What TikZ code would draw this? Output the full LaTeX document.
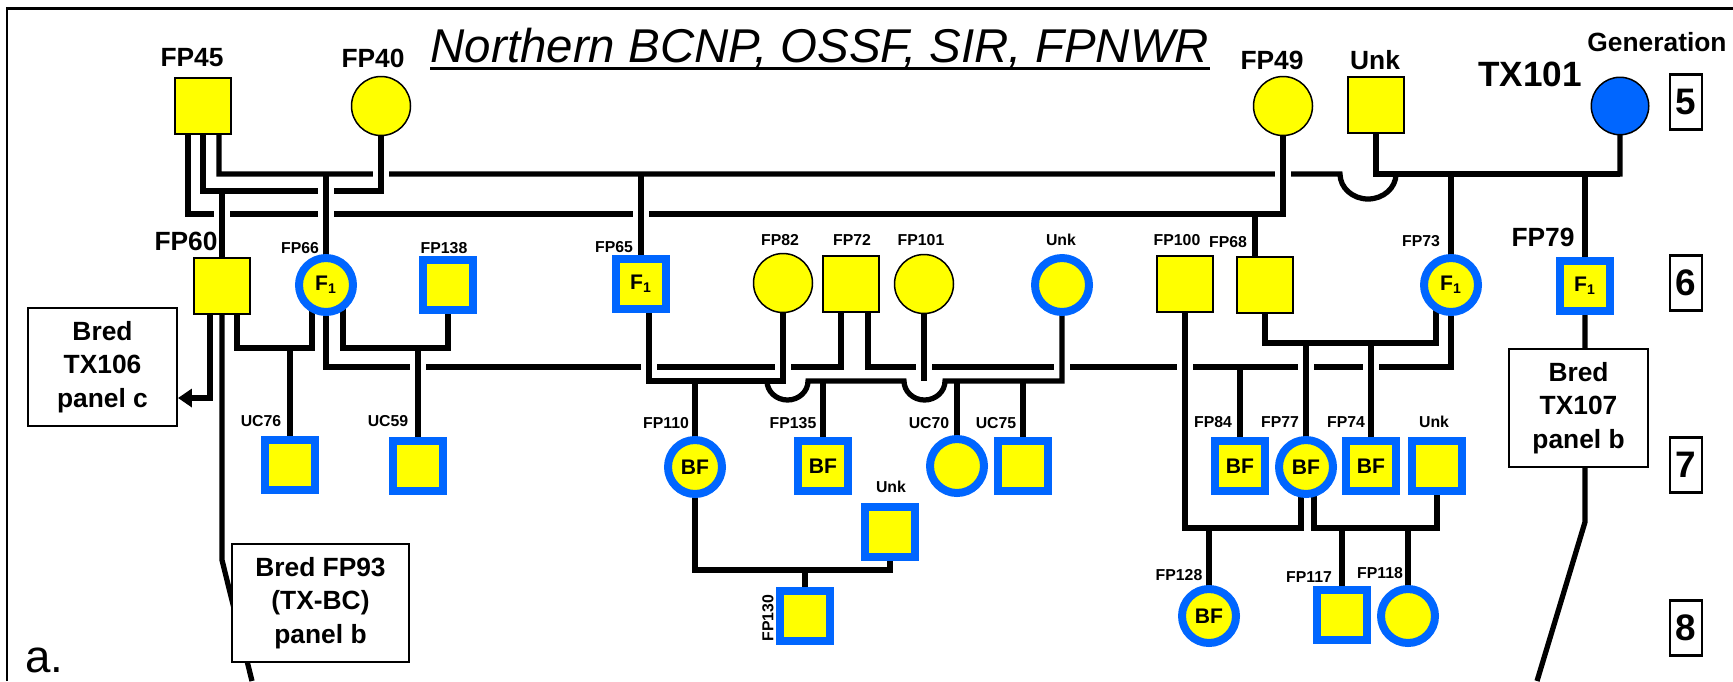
\documentclass[tikz,border=0pt]{standalone}
\usepackage{fontspec}
\setmainfont{Liberation Sans}
\usetikzlibrary{arrows.meta,backgrounds}
\definecolor{Yel}{HTML}{FFFF00}
\definecolor{Blu}{HTML}{0066FF}

\begin{document}
\begin{tikzpicture}[x=0.02cm,y=-0.02cm,
    mate/.style={line width=0.105cm},
    gap/.style={fill=white},
    sq/.style={rectangle,draw=black,line width=0.03cm,fill=Yel,minimum size=1.12cm,inner sep=0pt},
    bsq/.style={rectangle,draw=Blu,line width=0.16cm,fill=Yel,minimum size=1.0cm,inner sep=0pt,
      font=\bfseries\fontsize{12}{14}\selectfont},
    ci/.style={circle,draw=black,line width=0.03cm,fill=Yel,minimum size=1.18cm,inner sep=0pt},
    bci/.style={circle,draw=Blu,line width=0.16cm,fill=Yel,minimum size=1.08cm,inner sep=0pt,
      font=\bfseries\fontsize{12}{14}\selectfont},
    lab/.style={inner sep=0pt,font=\bfseries\fontsize{9}{10}\selectfont},
    biglab/.style={inner sep=0pt,font=\bfseries\fontsize{15}{18}\selectfont},
    bred/.style={draw=black,line width=0.04cm,fill=white,align=center,inner sep=0pt,
      minimum height=2.36cm,font=\bfseries\fontsize{15}{19}\selectfont},
    genbox/.style={draw=black,line width=0.05cm,minimum width=0.64cm,minimum height=1.1cm,
      inner sep=0pt,font=\bfseries\fontsize{21}{24}\selectfont}]
  \useasboundingbox (0,0) rectangle (1733,681);
  \draw[line width=0.06cm] (7,681) -- (7,8) -- (1733,8);

  \node[anchor=base,inner sep=0pt,font={\itshape\fontsize{27}{32}\selectfont}] (ttl) at (820,62)
    {Northern BCNP, OSSF, SIR, FPNWR};
  \draw[line width=0.06cm] ([yshift=-0.12cm]ttl.base west) -- ([yshift=-0.12cm]ttl.base east);

  \coordinate (yL1) at (0,174);
  \coordinate (yL2) at (0,191);
  \coordinate (yL3) at (0,214);
  \coordinate (yA) at (0,348);
  \coordinate (yC) at (0,343);
  \coordinate (yL4) at (0,367);
  \coordinate (yB) at (0,381);
  \coordinate (yF) at (0,398);
  \coordinate (yH) at (0,522);
  \coordinate (yD) at (0,528);
  \coordinate (yG) at (0,560);
  \coordinate (yE) at (0,570);
  \coordinate (hopA) at (1340,174);
  \coordinate (hopB) at (767,381);
  \coordinate (hopC) at (904,381);
  \coordinate (end93) at (252,681);
  \coordinate (end107) at (1537,681);

  \node[sq] (fp45) at (203,106) {};
  \node[ci] (fp40) at (381,106) {};
  \node[ci] (fp49) at (1283,106) {};
  \node[sq] (unkA) at (1376,105) {};
  \node[circle,draw=black,line width=0.03cm,fill=Blu,minimum size=1.15cm] (tx101) at (1620,106) {};

  \node[sq] (fp60) at (222,286) {};
  \node[bci] (fp66) at (326,285) {F\textsubscript{1}};
  \node[bsq] (fp138) at (448,285) {};
  \node[bsq] (fp65) at (641,284) {F\textsubscript{1}};
  \node[ci] (fp82) at (783,283) {};
  \node[sq] (fp72) at (851,284) {};
  \node[ci] (fp101) at (924,284) {};
  \node[bci] (unkB) at (1062,285) {};
  \node[sq] (fp100) at (1185,284) {};
  \node[sq] (fp68) at (1265,285) {};
  \node[bci] (fp73) at (1451,285) {F\textsubscript{1}};
  \node[bsq] (fp79) at (1585,286) {F\textsubscript{1}};

  \node[bsq] (uc76) at (290,465) {};
  \node[bsq] (uc59) at (418,466) {};
  \node[bci] (fp110) at (695,467) {BF};
  \node[bsq] (fp135) at (823,466) {BF};
  \node[bsq] (unkC) at (890,532) {};
  \node[bci] (uc70) at (957,466) {};
  \node[bsq] (uc75) at (1023,466) {};
  \node[bsq] (fp84) at (1240,466) {BF};
  \node[bci] (fp77) at (1306,467) {BF};
  \node[bsq] (fp74) at (1371,466) {BF};
  \node[bsq] (unkD) at (1437,466) {};

  \node[bsq] (fp130) at (805,616) {};
  \node[bci] (fp128) at (1209,616) {BF};
  \node[bsq] (fp117) at (1342,615) {};
  \node[bci] (fp118) at (1408,616) {};

  \node[biglab] (t45) at (192,58) {FP45};
  \node[biglab] (t40) at (373,58) {FP40};
  \node[biglab] (t49) at (1272,60) {FP49};
  \node[biglab] (tunkA) at (1375,60) {Unk};
  \node[inner sep=0pt,font=\bfseries\fontsize{20}{24}\selectfont] (ttx101) at (1530,74) {TX101};
  \node[biglab] (tgen) at (1657,42) {Generation};
  \node[biglab] (t60) at (186,241) {FP60};
  \node[lab] (t66) at (300,248) {FP66};
  \node[lab] (t138) at (444,248) {FP138};
  \node[lab] (t65) at (614,247) {FP65};
  \node[lab] (t82) at (780,240) {FP82};
  \node[lab] (t72) at (852,240) {FP72};
  \node[lab] (t101) at (921,240) {FP101};
  \node[lab] (tunkB) at (1061,240) {Unk};
  \node[lab] (t100) at (1177,240) {FP100};
  \node[lab] (t68) at (1228,242) {FP68};
  \node[lab] (t73) at (1421,241) {FP73};
  \node[biglab] (t79) at (1543,237) {FP79};
  \node[lab] (tuc76) at (261,421) {UC76};
  \node[lab] (tuc59) at (388,421) {UC59};
  \node[lab] (t110) at (666,423) {FP110};
  \node[lab] (t135) at (793,423) {FP135};
  \node[lab] (tunkC) at (891,487) {Unk};
  \node[lab] (tuc70) at (929,423) {UC70};
  \node[lab] (tuc75) at (996,423) {UC75};
  \node[lab] (t84) at (1213,422) {FP84};
  \node[lab] (t77) at (1280,422) {FP77};
  \node[lab] (t74) at (1346,422) {FP74};
  \node[lab] (tunkD) at (1434,422) {Unk};
  \node[lab,rotate=90] (t130) at (768,618) {FP130};
  \node[lab] (t128) at (1179,575) {FP128};
  \node[lab] (t117) at (1309,577) {FP117};
  \node[lab] (t118) at (1380,573) {FP118};

  \node[bred,minimum width=2.98cm] (bred106) at (102.5,367) {Bred\\TX106\\panel c};
  \node[bred,minimum width=3.54cm] (bred93) at (320.5,603) {Bred FP93\\(TX-BC)\\panel b};
  \node[bred,minimum width=2.78cm] (bred107) at (1578.5,408) {Bred\\TX107\\panel b};

  \node[genbox] (g5) at (1686,102) {5};
  \node[genbox] (g6) at (1686,283) {6};
  \node[genbox] (g7) at (1686,465) {7};
  \node[genbox] (g8) at (1686,628) {8};

  \node[anchor=base west,inner sep=0pt,font=\fontsize{26}{30}\selectfont] (panel) at (25,672) {a.};

  \begin{pgfonlayer}{background}
    \draw[mate] ([xshift=0.32cm]fp45.center) |- (hopA)
      arc[start angle=180,end angle=360,x radius=0.56cm,y radius=0.5cm]
      -- (tx101.center |- yL1) -- (tx101.center);
    \draw[mate] (unkA.center) |- (tx101.center |- yL1);
    \foreach \n in {fp40,fp49}
      \fill[gap] ([shift={(-8,-6)}]\n.center |- yL1) rectangle ([shift={(8,6)}]\n.center |- yL1);
    \draw[mate] (fp45.center) |- (fp40.center |- yL2) -- (fp40.center);
    \draw[mate] ([xshift=-0.3cm]fp45.center) |- (fp49.center |- yL3) -- (fp49.center);
    \foreach \n/\l in {fp66/yL2,fp60/yL3,fp66/yL3,fp65/yL3}
      \fill[gap] ([shift={(-8,-6)}]\n.center |- \l) rectangle ([shift={(8,6)}]\n.center |- \l);
    \foreach \n in {fp66,fp65,fp73,fp79}
      \draw[mate] (\n.center |- yL1) -- (\n.center);
    \draw[mate] (fp60.center |- yL2) -- (fp60.center);
    \draw[mate] ([xshift=-0.2cm]fp68.center |- yL3) -- ([xshift=-0.2cm]fp68.center);

    \draw[mate] (fp66.center) |- ([xshift=-0.2cm]fp72.center |- yL4) -- ([xshift=-0.2cm]fp72.center);
    \draw[mate] ([xshift=0.34cm]fp72.center) |- (fp73.center |- yL4) -- (fp73.center);
    \foreach \n in {uc59,fp82,fp101,unkB,fp100,fp77,fp74}
      \fill[gap] ([shift={(-8,-6)}]\n.center |- yL4) rectangle ([shift={(8,6)}]\n.center |- yL4);
    \fill[gap] ([shift={(0,-6)}]fp65.center |- yL4) rectangle ([shift={(16,6)}]fp65.center |- yL4);
    \draw[mate] (fp84.center |- yL4) -- (fp84.center);

    \draw[mate,-{Triangle[length=0.28cm,width=0.36cm]}] ([xshift=-0.24cm]fp60.center) |- (bred106.east |- yF);
    \draw[mate] (fp60.center) -- (fp60.center |- yG) -- (end93);
    \draw[mate] ([xshift=0.3cm]fp60.center) |- ([xshift=-0.28cm]fp66.center |- yA)
      -- ([xshift=-0.28cm]fp66.center);
    \draw[mate] ([xshift=0.34cm]fp66.center) |- (fp138.center |- yA) -- (fp138.center);
    \foreach \n in {uc76,uc59}
      \draw[mate] (\n.center |- yA) -- (\n.center);

    \draw[mate] ([xshift=0.16cm]fp65.center) |- (fp82.center |- yB) -- (fp82.center);
    \draw[mate] (hopB) arc[start angle=180,end angle=360,x radius=0.41cm,y radius=0.38cm]
      -- (hopC) arc[start angle=180,end angle=360,x radius=0.41cm,y radius=0.38cm]
      -- (unkB.center |- yB) -- (unkB.center);
    \draw[mate] (fp101.center) -- (fp101.center |- yB);
    \foreach \n in {fp110,fp135,uc70,uc75}
      \draw[mate] (\n.center |- yB) -- (\n.center);
    \draw[mate] (fp110.center) |- (unkC.center |- yE) -- (unkC.center);
    \draw[mate] (fp130.center |- yE) -- (fp130.center);

    \draw[mate] (fp68.center) |- ([xshift=-0.3cm]fp73.center |- yC) -- ([xshift=-0.3cm]fp73.center);
    \foreach \n in {fp77,fp74}
      \draw[mate] (\n.center |- yC) -- (\n.center);
    \draw[mate] (fp100.center) |- ([xshift=-0.1cm]fp77.center |- yD) -- ([xshift=-0.1cm]fp77.center);
    \draw[mate] (fp128.center |- yD) -- (fp128.center);
    \draw[mate] ([xshift=0.16cm]fp77.center) |- (unkD.center |- yD) -- (unkD.center);
    \foreach \n in {fp117,fp118}
      \draw[mate] (\n.center |- yD) -- (\n.center);

    \draw[mate] (fp79.center) -- (fp79.center |- yH) -- (end107);
  \end{pgfonlayer}
\end{tikzpicture}
\end{document}
